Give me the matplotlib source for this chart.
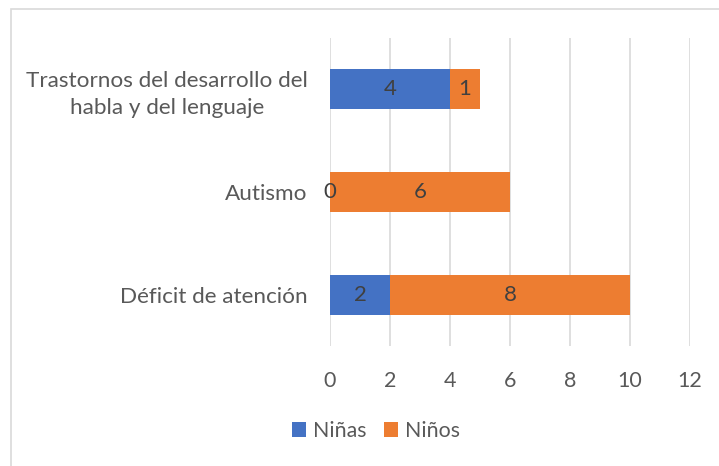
import matplotlib
matplotlib.use("Agg")
import matplotlib.pyplot as plt
from matplotlib.patches import Rectangle

categories = ["Déficit de atención", "Autismo",
              "Trastornos del desarrollo del\nhabla y del lenguaje"]
ninas = [2, 0, 4]
ninos = [8, 6, 1]
series_names = ["Niñas", "Niños"]
xticks = [0, 2, 4, 6, 8, 10, 12]

plt.rcParams["font.family"] = ["Lato", "DejaVu Sans"]

W, H = 719, 466
fig = plt.figure(figsize=(W / 100, H / 100), dpi=100)
ax = fig.add_axes([330 / W, 1 - 346 / H, 360 / W, 308 / H])

# chart frame (open on right and bottom edges of the image)
fig.patches.append(Rectangle((11 / W, -0.1), 1.2, 1 - 8.5 / H + 0.1,
                             transform=fig.transFigure, fill=False,
                             edgecolor="#D9D9D9", linewidth=1.2))

blue, orange = "#4472C4", "#ED7D31"
y = range(len(categories))
b1 = ax.barh(y, ninas, height=0.39, color=blue, label=series_names[0], zorder=3)
b2 = ax.barh(y, ninos, left=ninas, height=0.39, color=orange,
             label=series_names[1], zorder=3)
for bars in (b1, b2):
    ax.bar_label(bars, label_type="center", fontsize=16, color="#404040")

ax.set_xlim(0, 12)
ax.set_ylim(-0.5, 2.5)
ax.set_xticks(xticks)
ax.set_yticks(list(y))
ax.set_yticklabels(categories, multialignment="center", linespacing=1.4)
ax.tick_params(axis="x", length=0, labelsize=15.5, colors="#595959", pad=18)
ax.tick_params(axis="y", length=0, labelsize=16.2, colors="#595959", pad=16)
ax.grid(axis="x", color="#D9D9D9", linewidth=1.2, zorder=0)
for s in ax.spines.values():
    s.set_visible(False)

fig.legend(loc="center", bbox_to_anchor=(376 / W, 1 - 431 / H), ncol=2,
           frameon=False, fontsize=15.4, handlelength=0.65, handleheight=0.65,
           handletextpad=0.3, columnspacing=0.85, labelcolor="#595959")

fig.savefig("out.png", dpi=100, facecolor="white")
